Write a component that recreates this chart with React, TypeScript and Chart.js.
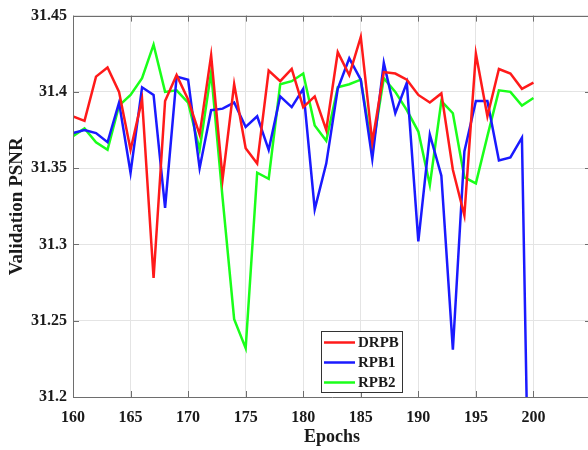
import React, { useEffect, useRef } from "react";
import { Chart, registerables } from "chart.js";

Chart.register(...registerables);

const epochs = [
  160, 161, 162, 163, 164, 165, 166, 167, 168, 169, 170, 171, 172, 173, 174, 175, 176, 177, 178, 179, 180,
  181, 182, 183, 184, 185, 186, 187, 188, 189, 190, 191, 192, 193, 194, 195, 196, 197, 198, 199, 200,
];

const drpb = [
  31.384, 31.381, 31.41, 31.416, 31.4, 31.362, 31.395, 31.278, 31.394, 31.411, 31.395, 31.372, 31.424, 31.343,
  31.405, 31.363, 31.353, 31.414, 31.407, 31.415, 31.39, 31.397, 31.375, 31.426, 31.411, 31.436, 31.367, 31.413,
  31.412, 31.408, 31.398, 31.393, 31.399, 31.349, 31.319, 31.425, 31.384, 31.415, 31.412, 31.402, 31.406,
];

const rpb1 = [
  31.373, 31.375, 31.373, 31.367, 31.393, 31.347, 31.403, 31.398, 31.324, 31.41, 31.408, 31.35, 31.388, 31.389,
  31.393, 31.377, 31.384, 31.362, 31.397, 31.39, 31.402, 31.323, 31.353, 31.402, 31.422, 31.408, 31.356, 31.419,
  31.386, 31.406, 31.302, 31.372, 31.345, 31.231, 31.361, 31.394, 31.394, 31.355, 31.357, 31.37, 30.95,
];

const rpb2 = [
  31.371, 31.376, 31.367, 31.362, 31.391, 31.398, 31.409, 31.431, 31.4, 31.401, 31.393, 31.362, 31.413, 31.33,
  31.251, 31.232, 31.347, 31.343, 31.405, 31.407, 31.412, 31.378, 31.368, 31.403, 31.405, 31.408, 31.362, 31.409,
  31.4, 31.388, 31.374, 31.339, 31.394, 31.386, 31.344, 31.34, 31.371, 31.401, 31.4, 31.391, 31.396,
];

const seriesNames = ["DRPB", "RPB1", "RPB2"];
const seriesColors = ["#ff1a1a", "#1a1aff", "#1aff1a"];
const xTicks = [160, 165, 170, 175, 180, 185, 190, 195, 200];
const yTicks = [31.2, 31.25, 31.3, 31.35, 31.4, 31.45];

const FONT = "'Liberation Serif', 'Times New Roman', serif";

const boxPlugin = {
  id: "boxAndLegend",
  afterDraw(chart: any) {
    const { ctx, chartArea } = chart;
    const { left, right, top, bottom } = chartArea;
    const xs = chart.scales.x;
    const ys = chart.scales.y;
    ctx.save();
    ctx.strokeStyle = "#6e6e6e";
    ctx.lineWidth = 1;
    ctx.beginPath();
    ctx.rect(Math.round(left) + 0.5, Math.round(top) + 0.5, Math.round(right - left), Math.round(bottom - top));
    ctx.stroke();
    // inward ticks
    ctx.beginPath();
    const tl = 6;
    xs.ticks.forEach((t: any) => {
      const px = Math.round(xs.getPixelForValue(t.value)) + 0.5;
      ctx.moveTo(px, bottom);
      ctx.lineTo(px, bottom - tl);
      ctx.moveTo(px, top);
      ctx.lineTo(px, top + tl);
    });
    ys.ticks.forEach((t: any) => {
      const py = Math.round(ys.getPixelForValue(t.value)) + 0.5;
      ctx.moveTo(left, py);
      ctx.lineTo(left + tl, py);
      ctx.moveTo(right, py);
      ctx.lineTo(right - tl, py);
    });
    ctx.stroke();

    // legend
    const lx = 321, ly = 331, lw = 81, lh = 61;
    ctx.fillStyle = "#ffffff";
    ctx.fillRect(lx, ly, lw, lh);
    ctx.strokeStyle = "#333333";
    ctx.lineWidth = 1;
    ctx.strokeRect(lx + 0.5, ly + 0.5, lw, lh);
    const rows = [342.5, 362.5, 382.5];
    chart.data.datasets.forEach((ds: any, i: number) => {
      ctx.strokeStyle = ds.borderColor;
      ctx.lineWidth = 2.5;
      ctx.beginPath();
      ctx.moveTo(324, rows[i]);
      ctx.lineTo(355, rows[i]);
      ctx.stroke();
      ctx.fillStyle = "#1a1a1a";
      ctx.font = `bold 15px ${FONT}`;
      ctx.textAlign = "left";
      ctx.textBaseline = "middle";
      ctx.fillText(ds.label, 358, rows[i] + 1);
    });
    ctx.restore();
  },
};

export default function App() {
  const ref = useRef<HTMLCanvasElement | null>(null);

  useEffect(() => {
    document.body.style.margin = "0";
    const canvas = ref.current;
    if (!canvas) return;
    const chart = new Chart(canvas, {
      type: "line",
      data: {
        datasets: [drpb, rpb1, rpb2].map((arr, i) => ({
          label: seriesNames[i],
          data: epochs.map((e, j) => ({ x: e, y: arr[j] })),
          borderColor: seriesColors[i],
          backgroundColor: seriesColors[i],
          borderWidth: 2.5,
          pointRadius: 0,
          tension: 0,
          fill: false,
        })),
      },
      options: {
        responsive: false,
        animation: false,
        devicePixelRatio: 1,
        layout: { padding: { top: 12, right: 3, left: 0, bottom: 0 } },
        plugins: { legend: { display: false }, tooltip: { enabled: false } },
        scales: {
          x: {
            type: "linear",
            min: 160,
            max: 205,
            afterBuildTicks: (scale: any) => {
              scale.ticks = xTicks.map((v) => ({ value: v }));
            },
            afterFit: (scale: any) => {
              scale.height = 53;
            },
            grid: { color: "#e4e4e4", lineWidth: 1, drawTicks: false },
            border: { display: false },
            ticks: {
              padding: 11,
              color: "#1a1a1a",
              font: { family: FONT, size: 16, weight: "bold" },
              maxRotation: 0,
              autoSkip: false,
            },
            title: {
              display: true,
              text: "Epochs",
              color: "#1a1a1a",
              font: { family: FONT, size: 18, weight: "bold" },
              padding: { top: 0, bottom: 2 },
            },
          },
          y: {
            min: 31.2,
            max: 31.45,
            afterBuildTicks: (scale: any) => {
              scale.ticks = yTicks.map((v) => ({ value: v }));
            },
            afterFit: (scale: any) => {
              scale.width = 73;
            },
            grid: { color: "#e4e4e4", lineWidth: 1, drawTicks: false },
            border: { display: false },
            ticks: {
              padding: 6,
              color: "#1a1a1a",
              font: { family: FONT, size: 16, weight: "bold" },
              autoSkip: false,
              callback: (v: any) => String(Number(v)),
            },
            title: {
              display: true,
              text: "Validation PSNR",
              color: "#1a1a1a",
              font: { family: FONT, size: 19, weight: "bold" },
              padding: { top: 6, bottom: 0 },
            },
          },
        },
      },
      plugins: [boxPlugin],
    } as any);
    return () => chart.destroy();
  }, []);

  return (
    <div style={{ position: "fixed", left: 0, top: 0, width: 588, height: 450, overflow: "hidden", background: "#fff" }}>
      <canvas ref={ref} width={594} height={450} style={{ display: "block", width: 594, height: 450 }} />
    </div>
  );
}
